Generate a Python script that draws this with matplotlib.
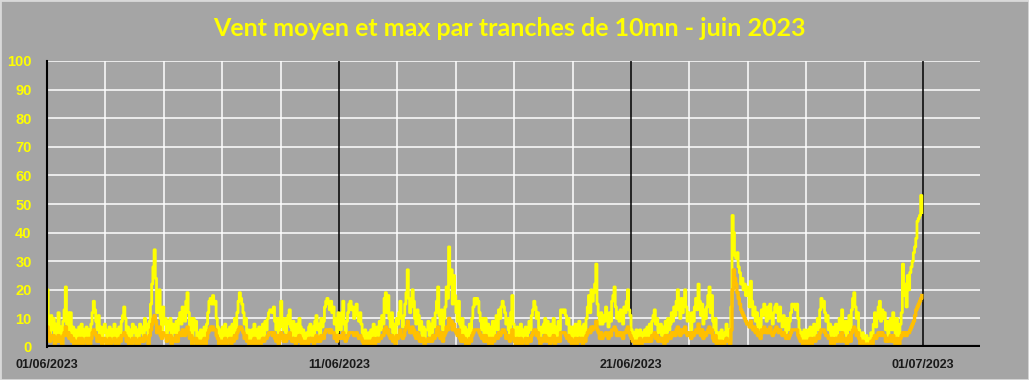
import numpy as np
import matplotlib
matplotlib.use("Agg")
import matplotlib.pyplot as plt
from matplotlib.patches import Rectangle

# ---- data: hourly readings (km/h), 01/06/2023 00h -> 30/06/2023 23h ----
vent_max = [
    20,8,3,11,6,10,2,8,5,12,4,7,0,9,13,21,8,12,6,12,3,7,0,6,          # 01/06
    5,0,7,3,8,0,6,4,7,2,6,3,8,12,16,13,9,6,11,4,7,0,5,8,              # 02/06
    6,0,5,7,2,6,4,8,3,6,0,7,5,9,11,14,10,5,7,3,6,0,8,5,               # 03/06
    7,3,6,0,8,5,7,4,10,6,8,3,9,15,22,28,34,24,12,15,20,10,6,14,       # 04/06
    8,10,4,9,6,10,3,8,7,5,9,4,10,12,8,14,11,9,16,19,12,6,10,0,        # 05/06
    10,6,9,3,5,0,6,2,4,7,3,8,12,16,17,15,18,15,16,10,7,3,6,0,         # 06/06
    7,3,8,0,6,4,7,2,8,5,10,6,12,16,19,17,15,12,8,10,4,6,0,5,          # 07/06
    6,0,8,4,6,2,7,0,5,8,4,9,6,10,12,13,13,12,14,9,6,10,3,7,           # 08/06
    16,9,6,10,5,8,11,13,7,4,9,6,3,8,5,10,7,0,6,3,0,5,2,7,             # 09/06
    8,4,7,2,9,11,6,8,4,10,7,9,14,16,17,15,13,16,12,14,8,10,5,12,      # 10/06
    10,6,12,16,8,5,9,12,15,16,13,14,10,12,15,11,9,12,8,5,3,6,0,4,     # 11/06
    5,0,6,3,8,0,5,7,4,9,6,11,8,17,19,12,18,10,7,12,5,8,3,10,          # 12/06
    8,12,16,10,7,11,15,19,27,17,12,14,20,16,10,8,13,11,6,9,4,7,0,6,   # 13/06
    6,9,4,8,5,10,7,12,16,21,11,8,13,6,10,14,21,17,35,22,27,15,25,18,  # 14/06
    12,9,16,8,5,10,4,7,0,6,3,8,5,10,14,17,15,17,16,12,9,6,10,4,       # 15/06
    10,5,8,3,7,0,9,4,8,11,6,13,10,14,16,14,12,8,10,6,4,12,18,8,       # 16/06
    6,0,7,3,5,8,2,6,4,7,0,5,9,6,11,13,16,14,10,12,6,3,7,5,            # 17/06
    8,10,4,9,6,3,8,5,10,2,7,4,9,6,13,13,12,13,11,8,10,4,7,0,          # 18/06
    7,3,8,0,6,9,4,7,2,8,5,10,14,18,12,20,16,19,22,29,15,11,8,12,      # 19/06
    8,11,9,14,10,7,12,9,16,18,21,14,10,12,9,13,11,8,14,12,16,20,13,11,# 20/06
    6,3,5,0,6,4,2,6,0,5,3,6,4,7,3,8,5,9,11,13,8,10,5,7,               # 21/06
    8,4,7,2,9,5,10,6,8,12,9,14,11,16,20,13,10,17,12,15,20,14,9,12,    # 22/06
    10,6,12,9,14,17,13,22,16,11,15,8,13,10,14,18,21,12,18,9,6,10,3,5, # 23/06
    5,0,6,3,0,5,8,4,6,2,14,46,40,32,31,33,28,26,22,24,20,22,18,21,    # 24/06
    18,14,23,16,11,14,9,12,7,10,6,13,11,15,12,9,14,10,15,11,8,12,14,15,  # 25/06
    12,9,14,10,7,11,8,5,10,6,9,12,15,14,15,13,15,10,6,3,5,0,6,4,      # 26/06
    0,6,3,7,0,5,8,4,7,10,6,13,17,14,16,12,9,11,6,8,3,7,0,5,           # 27/06
    8,4,7,10,6,13,8,5,9,3,7,11,6,13,17,19,14,10,12,6,3,0,5,0,         # 28/06
    0,4,0,3,0,5,2,8,12,7,10,14,16,9,13,10,12,6,9,4,7,10,6,12,         # 29/06
    6,0,10,5,3,8,12,29,18,22,14,25,20,26,28,30,33,35,38,44,45,46,53,47,  # 30/06
]

vent_moyen = [
    7,5,2,4,3,4,1,3,2,4,2,3,0,4,5,7,4,5,3,4,2,3,0,2,
    2,0,3,1,3,0,2,2,3,1,3,1,3,5,6,5,4,2,4,2,3,0,2,3,
    2,0,2,3,1,2,2,3,1,2,0,3,2,4,4,5,4,2,3,1,2,0,3,2,
    3,1,2,0,3,2,3,2,4,3,3,1,4,6,8,10,11,9,5,6,7,4,3,5,
    4,4,2,4,3,4,1,3,3,2,4,2,4,5,4,6,5,4,6,7,5,3,4,0,
    3,2,3,1,2,0,2,1,2,3,1,3,5,6,7,6,7,6,6,4,3,1,2,0,
    2,1,3,0,2,2,3,1,3,2,4,3,5,6,7,7,6,5,3,4,2,2,0,2,
    2,0,3,1,2,1,2,0,2,3,2,3,3,4,5,5,5,4,5,3,2,4,1,3,
    5,4,2,4,2,3,4,5,3,2,3,2,1,3,2,4,3,0,2,1,0,2,1,3,
    3,2,3,1,3,4,2,3,2,4,3,3,5,6,6,6,5,6,5,5,3,4,2,4,
    4,3,4,5,3,2,3,4,5,5,5,5,4,4,5,4,3,4,3,2,1,2,0,2,
    2,0,2,1,3,0,2,3,2,3,3,4,4,6,7,5,6,4,3,4,2,3,1,4,
    3,4,6,4,3,4,6,7,9,7,5,5,7,6,4,3,5,4,2,3,2,3,0,2,
    2,3,2,3,2,4,3,4,6,7,4,3,5,2,4,5,7,6,10,8,9,6,8,6,
    5,4,6,3,2,4,2,3,0,2,1,3,2,4,5,6,6,6,6,5,4,3,4,2,
    4,2,3,1,3,0,3,2,3,4,3,5,4,5,6,6,5,3,4,3,2,4,6,3,
    2,0,3,1,2,3,1,2,2,3,0,2,3,2,4,5,6,6,4,5,3,1,3,2,
    3,4,2,3,2,1,3,2,4,1,3,2,3,2,5,5,5,5,4,3,4,2,3,0,
    2,1,3,0,2,3,2,3,1,3,2,4,5,6,5,7,6,7,7,9,6,5,3,5,
    3,4,4,5,4,3,5,4,6,6,7,6,4,5,4,5,4,3,5,5,6,7,5,4,
    3,2,2,0,2,2,1,3,0,2,2,3,2,3,2,3,2,4,4,5,3,4,2,3,
    3,2,3,1,4,2,4,3,3,5,4,5,4,6,7,5,4,6,5,6,7,5,4,5,
    4,3,5,4,5,6,5,8,6,4,6,3,5,4,5,6,7,5,6,3,2,4,1,2,
    2,0,2,1,0,2,3,2,2,1,6,20,27,24,22,19,17,15,13,12,11,10,9,8,
    8,7,9,7,6,7,5,6,4,5,3,6,5,7,6,5,6,5,7,5,4,5,6,7,
    6,5,6,5,4,5,4,3,4,3,4,5,6,6,6,6,6,4,3,2,2,0,2,2,
    0,2,1,3,0,2,3,2,3,4,3,5,6,6,6,5,4,4,3,3,1,3,0,2,
    3,2,3,4,2,5,3,2,3,1,3,4,2,5,6,7,6,4,5,3,1,0,2,0,
    0,1,0,1,0,2,1,3,4,3,4,5,5,4,5,4,4,2,3,2,3,4,2,4,
    2,0,3,2,1,3,4,5,4,5,4,5,5,6,7,8,9,11,13,14,15,16,17,18,
]

tick_days = [0, 10, 20, 30]
tick_labels = ["01/06/2023", "11/06/2023", "21/06/2023", "01/07/2023"]
y_ticks = list(range(0, 101, 10))
title = "Vent moyen et max par tranches de 10mn - juin 2023"

# ---- figure ----
BG = "#A5A5A5"
fig = plt.figure(figsize=(10.29, 3.80), dpi=100, facecolor=BG)
ax = fig.add_axes([47/1029, 33/380, 933/1029, 286/380])
ax.set_facecolor(BG)

t = np.arange(len(vent_max)) / 24.0
ax.set_xlim(0, 31.95)
ax.set_ylim(0, 100)

# grid
for y in y_ticks[1:]:
    ax.axhline(y, color="white", lw=1.1, zorder=1)
for d in range(2, 32, 2):
    if d % 10 != 0:
        ax.axvline(d, color="white", lw=1.1, zorder=1)
for d in (10, 20, 30):
    ax.axvline(d, color="black", lw=1.1, zorder=1)

ax.plot(t, vent_max, color="#FFFF00", lw=2.0, zorder=3, drawstyle="steps-post")
ax.plot(t, vent_moyen, color="#FFC000", lw=2.4, zorder=4, drawstyle="steps-post")

ax.axhline(0, color="black", lw=3, zorder=5)

for s in ("top", "right", "bottom"):
    ax.spines[s].set_visible(False)
ax.spines["left"].set_color("black")
ax.spines["left"].set_linewidth(1.5)
ax.spines["left"].set_zorder(6)

ax.set_yticks(y_ticks)
ax.set_yticklabels([str(v) for v in y_ticks], color="#FFFF00",
                   fontweight="bold", fontsize=10.5, family="Liberation Sans")
ax.set_xticks(tick_days)
ax.set_xticklabels(tick_labels, color="#1a1a1a", fontweight="bold",
                   fontsize=9, family="Liberation Sans")
ax.tick_params(axis="both", length=0)
ax.tick_params(axis="y", pad=11)
ax.tick_params(axis="x", pad=9)

fig.text(0.495, 1 - 28/380, title, color="#FFFF00", fontsize=18,
         fontweight="bold", family="Lato", ha="center", va="center")

fig.patches.append(Rectangle((0, 0), 1, 1, transform=fig.transFigure,
                             fill=False, edgecolor="#D9D9D9", lw=2))

fig.savefig("out.png", dpi=100, facecolor=BG)
